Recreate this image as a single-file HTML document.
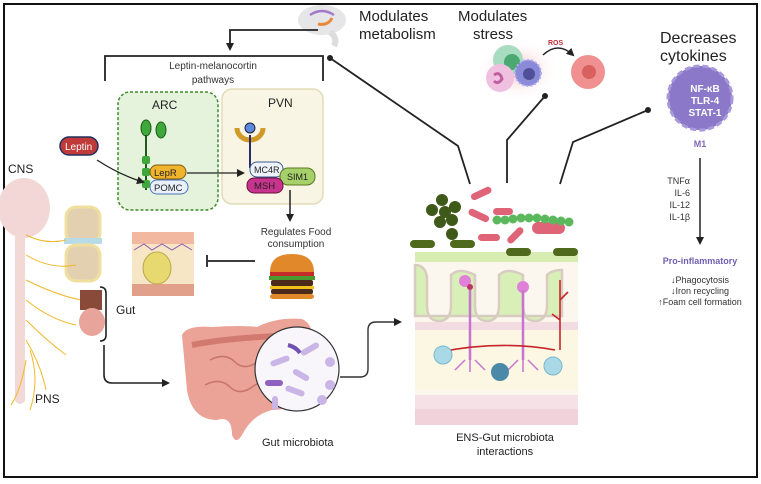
<!DOCTYPE html>
<html><head><style>
html,body{margin:0;padding:0;background:#fff}
svg{display:block;font-family:"Liberation Sans",sans-serif}
</style></head><body>
<svg width="761" height="484" viewBox="0 0 761 484" xmlns="http://www.w3.org/2000/svg">
<defs>
<marker id="ah" markerWidth="8" markerHeight="8" refX="6" refY="4" orient="auto" markerUnits="userSpaceOnUse"><path d="M0,0 L8,4 L0,8z" fill="#222"/></marker>
<radialGradient id="glow"><stop offset="0" stop-color="#f3b8c0"/><stop offset="1" stop-color="#fff" stop-opacity="0"/></radialGradient>
</defs>
<rect x="4" y="4" width="753" height="473" fill="#fff" stroke="#111" stroke-width="2"/>

<!-- top brain -->
<ellipse cx="322" cy="20" rx="24" ry="15" fill="#e6e6e8"/>
<path d="M310 15 q12 -8 24 0" stroke="#a27ac8" stroke-width="2.5" fill="none"/>
<path d="M318 24 q10 2 14 -6" stroke="#e8883a" stroke-width="3" fill="none"/>
<path d="M330 32 q8 6 4 14" stroke="#ddd" stroke-width="6" fill="none"/>
<text x="359" y="21" font-size="15" fill="#222">Modulates</text>
<text x="359" y="39" font-size="15" fill="#222">metabolism</text>
<path d="M318 30 H230 V49" stroke="#222" stroke-width="1.8" fill="none" marker-end="url(#ah)"/>
<path d="M105 81 V56 H323 V81" stroke="#222" stroke-width="1.8" fill="none"/>
<text x="213" y="69" font-size="10" text-anchor="middle" fill="#333">Leptin-melanocortin</text>
<text x="213" y="83" font-size="10" text-anchor="middle" fill="#333">pathways</text>

<!-- ARC -->
<rect x="118" y="92" width="100" height="118" rx="12" fill="#e5f2dc" stroke="#3e8a2a" stroke-width="1.5" stroke-dasharray="3,2"/>
<text x="152" y="109" font-size="12" fill="#222">ARC</text>
<rect x="222" y="89" width="101" height="115" rx="10" fill="#f8f5e4" stroke="#e3dcb8" stroke-width="1.5"/>
<text x="268" y="107" font-size="12" fill="#222">PVN</text>
<ellipse cx="146" cy="128" rx="5" ry="8" fill="#3fa83a" stroke="#1f5a1a"/>
<ellipse cx="161" cy="130" rx="5" ry="8" fill="#3fa83a" stroke="#1f5a1a"/>
<line x1="146" y1="135" x2="146" y2="190" stroke="#1f5a1a" stroke-width="2"/>
<rect x="142" y="156" width="8" height="8" rx="2" fill="#3fa83a"/>
<rect x="142" y="168" width="8" height="8" rx="2" fill="#3fa83a"/>
<rect x="142" y="180" width="8" height="8" rx="2" fill="#3fa83a"/>
<rect x="150" y="165" width="36" height="14" rx="7" fill="#f0b42c" stroke="#7a5a10"/>
<text x="154" y="176" font-size="9.5" fill="#222">LepR</text>
<rect x="150" y="180" width="38" height="14" rx="7" fill="#eaf0fb" stroke="#4a74b8"/>
<text x="154" y="191" font-size="9.5" fill="#222">POMC</text>
<rect x="60" y="137" width="38" height="18" rx="9" fill="#c03a3a" stroke="#203060" stroke-width="1.5"/>
<text x="65" y="150" font-size="10" fill="#fff">Leptin</text>
<path d="M97 160 Q120 175 143 182" stroke="#222" stroke-width="1.3" fill="none" marker-end="url(#ah)"/>
<path d="M187 173 H243" stroke="#222" stroke-width="1.3" fill="none" marker-end="url(#ah)"/>
<path d="M237 128 a13 12 0 0 0 26 0" stroke="#d09a28" stroke-width="5" fill="none"/>
<circle cx="250" cy="128" r="5" fill="#5a8ae0" stroke="#223"/>
<line x1="250" y1="135" x2="250" y2="168" stroke="#2b2b6a" stroke-width="2"/>
<rect x="250" y="162" width="33" height="15" rx="7" fill="#eef2fb" stroke="#3a5a90"/>
<text x="254" y="173" font-size="9" fill="#222">MC4R</text>
<rect x="280" y="168" width="35" height="17" rx="8" fill="#a6d06a" stroke="#5a7a20"/>
<text x="287" y="180" font-size="9" fill="#222">SIM1</text>
<rect x="247" y="178" width="36" height="15" rx="7" fill="#c8338e" stroke="#6a1040"/>
<text x="254" y="189" font-size="9.5" fill="#222">MSH</text>
<path d="M290 190 V220" stroke="#222" stroke-width="1.5" fill="none" marker-end="url(#ah)"/>
<text x="296" y="235" font-size="10" text-anchor="middle" fill="#333">Regulates Food</text>
<text x="296" y="247" font-size="10" text-anchor="middle" fill="#333">consumption</text>

<!-- burger -->
<path d="M270 272 q0 -18 22 -18 q22 0 22 18z" fill="#e0882a"/>
<rect x="270" y="272" width="44" height="4" fill="#c42a2a"/>
<rect x="269" y="276" width="46" height="4" fill="#4a9a30"/>
<rect x="271" y="280" width="42" height="6" rx="2" fill="#4a2a1a"/>
<rect x="270" y="286" width="44" height="3" fill="#f2c11a"/>
<rect x="271" y="289" width="42" height="5" rx="2" fill="#4a2a1a"/>
<rect x="270" y="294" width="44" height="5" rx="3" fill="#e0882a"/>
<path d="M255 261 H208 M207 255 V267" stroke="#222" stroke-width="1.8"/>
<!-- skin -->
<rect x="132" y="232" width="62" height="64" fill="#f6e6c6"/>
<rect x="132" y="232" width="62" height="12" fill="#f2b9a0"/>
<rect x="132" y="284" width="62" height="12" fill="#e0a08a"/>
<path d="M134 250 l10 -6 l8 6 l10 -6 l10 6 l10 -6 l10 6" stroke="#8a5ab0" fill="none"/>
<ellipse cx="157" cy="268" rx="14" ry="16" fill="#e8d870" stroke="#b8a84a"/>
<!-- knee -->
<rect x="66" y="207" width="34" height="36" rx="10" fill="#e2d0b0" stroke="#f0e0a0" stroke-width="3"/>
<rect x="64" y="238" width="38" height="6" fill="#b7dbe7"/>
<rect x="66" y="245" width="34" height="36" rx="10" fill="#e2d0b0" stroke="#f0e0a0" stroke-width="3"/>
<!-- CNS/PNS -->
<text x="8" y="173" font-size="12" fill="#222">CNS</text>
<ellipse cx="24" cy="208" rx="26" ry="30" fill="#f3d7d7"/>
<rect x="15" y="232" width="10" height="172" rx="5" fill="#f2d9d6"/>
<g stroke="#f0b82a" stroke-width="1" fill="none">
<path d="M26 235 q20 10 40 5 M26 255 q25 15 50 10 M26 280 q30 15 55 20 M26 300 q25 20 50 25 M26 320 q20 20 40 35 M26 340 q15 25 20 50 M30 350 q10 30 0 60 M26 360 q-5 30 -15 45"/>
</g>
<text x="35" y="403" font-size="12" fill="#222">PNS</text>
<path d="M80 290 h22 v20 h-22z" fill="#8a4a3a"/>
<ellipse cx="92" cy="322" rx="13" ry="14" fill="#e8a49a"/>
<path d="M100 287 q6 0 6 6 V335 q0 6 -6 6" stroke="#222" stroke-width="1.6" fill="none"/>
<text x="116" y="314" font-size="12" fill="#222">Gut</text>
<path d="M104 345 V375 q0 8 8 8 H168" stroke="#222" stroke-width="1.6" fill="none" marker-end="url(#ah)"/>
<!-- large intestine -->
<path d="M182 335 q5 -10 30 -8 q30 -2 45 0 q20 -10 45 -8 q12 5 10 25 V380 q-10 30 -40 30 q-20 5 -30 25 q-6 10 -10 0 q0 -20 -15 -15 q-25 0 -30 -30z" fill="#eba297"/>
<path d="M192 345 q40 -8 110 -10" stroke="#d27a70" stroke-width="6" fill="none"/>
<path d="M210 360 q15 -8 25 2 q10 10 25 -2 q15 -8 25 4 M205 385 q15 -8 25 2 q10 10 25 -2 q15 -8 25 4" stroke="#c8766a" stroke-width="1.5" fill="none"/>
<circle cx="297" cy="369" r="42" fill="#f8f6fb" stroke="#333" stroke-width="1.2"/>
<g fill="#c9b6e6"><rect x="270" y="358" width="20" height="6" rx="3" transform="rotate(-20 280 361)"/><rect x="300" y="346" width="20" height="6" rx="3" transform="rotate(-30 310 349)"/><rect x="292" y="372" width="18" height="6" rx="3" transform="rotate(30 301 375)"/><rect x="285" y="388" width="20" height="6" rx="3" transform="rotate(20 295 391)"/><rect x="272" y="396" width="6" height="14" rx="3"/><circle cx="330" cy="385" r="5"/><circle cx="322" cy="400" r="5"/><circle cx="330" cy="362" r="5"/></g>
<rect x="265" y="380" width="18" height="6" rx="3" fill="#9060c0"/>
<path d="M288 345 q8 2 12 8" stroke="#7050b0" stroke-width="4" fill="none"/>
<text x="262" y="446" font-size="11" fill="#222">Gut microbiota</text>
<path d="M340 377 H360 q8 0 8 -8 V330 q0 -8 8 -8 H400" stroke="#333" stroke-width="1.4" fill="none" marker-end="url(#ah)"/>

<!-- ENS tissue -->
<rect x="415" y="252" width="163" height="173" fill="#fbf6ee"/>
<rect x="415" y="330" width="163" height="60" fill="#fbf7e3"/>
<rect x="415" y="395" width="163" height="14" fill="#f6e1e6"/>
<rect x="415" y="409" width="163" height="16" fill="#f2d2da"/>
<rect x="415" y="322" width="163" height="8" fill="#f2dce2"/>
<path d="M415 252 H578 V262 H415z" fill="#d6ecb0"/>
<g fill="#d8efb8" stroke="#d8ccc0" stroke-width="2.5">
<path d="M415 265 q10 0 12 12 V305 q0 16 12 16 q12 0 12 -16 V275 q8 -8 24 0 V305 q0 16 12 16 q12 0 12 -16 V275 q8 -8 24 0 V305 q0 16 12 16 q12 0 12 -16 V275 q5 -5 15 -5 V316 H415z"/>
</g>
<g fill="#4f6a1c"><rect x="410" y="240" width="25" height="8" rx="4"/><rect x="450" y="240" width="25" height="8" rx="4"/><rect x="506" y="248" width="25" height="8" rx="4"/><rect x="553" y="248" width="25" height="8" rx="4"/></g>
<g fill="#3e5a18"><circle cx="442" cy="200" r="6"/><circle cx="432" cy="210" r="6"/><circle cx="445" cy="212" r="6"/><circle cx="455" cy="207" r="6"/><circle cx="440" cy="222" r="6"/><circle cx="452" cy="220" r="6"/><circle cx="452" cy="234" r="6"/></g>
<g fill="#df6478"><rect x="470" y="190" width="22" height="7" rx="3.5" transform="rotate(-25 481 193)"/><rect x="468" y="212" width="22" height="7" rx="3.5" transform="rotate(25 479 215)"/><rect x="493" y="208" width="20" height="7" rx="3.5"/><rect x="478" y="234" width="22" height="7" rx="3.5"/><rect x="505" y="232" width="20" height="7" rx="3.5" transform="rotate(-45 515 235)"/><rect x="532" y="222" width="33" height="12" rx="6"/></g>
<g fill="#5cb85c"><circle cx="497" cy="220" r="4.5"/><circle cx="505" cy="220" r="4.5"/><circle cx="513" cy="219" r="4.5"/><circle cx="521" cy="218" r="4.5"/><circle cx="529" cy="218" r="4.5"/><circle cx="537" cy="218" r="4.5"/><circle cx="545" cy="219" r="4.5"/><circle cx="553" cy="220" r="4.5"/><circle cx="561" cy="221" r="4.5"/><circle cx="569" cy="222" r="4.5"/></g>
<g fill="#c0306a"><circle cx="465" cy="281" r="6" fill="#e080d8"/><circle cx="470" cy="287" r="3"/><circle cx="523" cy="287" r="6" fill="#e080d8"/></g>
<path d="M470 290 V360 M523 290 V360" stroke="#c873d0" stroke-width="2.5"/>
<path d="M465 360 l-10 10 M470 360 v12 M475 360 l10 10 M518 360 l-10 10 M523 360 v12 M528 360 l10 10" stroke="#c873d0" stroke-width="1.5"/>
<path d="M440 352 Q500 340 555 350 M560 350 V280 M560 300 l8 -8 M560 320 l-8 -6" stroke="#c8262a" stroke-width="1.6" fill="none"/>
<circle cx="443" cy="355" r="9" fill="#a9d8e6" stroke="#7ab8cc"/>
<circle cx="500" cy="372" r="9" fill="#4a8aa8"/>
<circle cx="553" cy="366" r="9" fill="#a9d8e6" stroke="#7ab8cc"/>
<text x="505" y="441" font-size="11" text-anchor="middle" fill="#222">ENS-Gut microbiota</text>
<text x="505" y="455" font-size="11" text-anchor="middle" fill="#222">interactions</text>

<!-- connectors -->
<path d="M470 184 L458 146 L330 58" stroke="#222" stroke-width="1.8" fill="none"/><circle cx="330" cy="58" r="3" fill="#222"/>
<path d="M507 183 V140 L545 96" stroke="#222" stroke-width="1.8" fill="none"/><circle cx="545" cy="96" r="3" fill="#222"/>
<path d="M560 184 L573 142 L648 110" stroke="#222" stroke-width="1.8" fill="none"/><circle cx="648" cy="110" r="3" fill="#222"/>

<!-- stress -->
<text x="458" y="21" font-size="15" fill="#222">Modulates</text>
<text x="473" y="39" font-size="15" fill="#222">stress</text>
<ellipse cx="518" cy="70" rx="42" ry="32" fill="url(#glow)"/>
<circle cx="508" cy="60" r="15" fill="#a8dcc0"/><circle cx="512" cy="62" r="8" fill="#4aa870"/>
<circle cx="500" cy="78" r="14" fill="#f0c0e0"/><path d="M494 75 q6 -4 8 4 q-4 6 -8 2" stroke="#c060a0" stroke-width="3" fill="none"/>
<circle cx="528" cy="73" r="13" fill="#8a8ad8" stroke="#b0b0f0" stroke-width="2" stroke-dasharray="2,2"/><circle cx="529" cy="74" r="6" fill="#505098"/>
<text x="548" y="45" font-size="7" fill="#c0303a" font-weight="bold">ROS</text>
<path d="M543 55 q15 -14 30 0" stroke="#222" stroke-width="1.5" fill="none" marker-end="url(#ah)"/>
<circle cx="588" cy="72" r="17" fill="#f09090"/><circle cx="589" cy="72" r="7" fill="#d86060"/>

<!-- M1 -->
<text x="660" y="43" font-size="16" fill="#222">Decreases</text>
<text x="660" y="61" font-size="16" fill="#222">cytokines</text>
<circle cx="700" cy="98" r="32" fill="#8b78c8" stroke="#a898dc" stroke-width="3" stroke-dasharray="6,3"/>
<text x="705" y="92" font-size="10" font-weight="bold" fill="#fff" text-anchor="middle">NF-κB</text>
<text x="705" y="104" font-size="10" font-weight="bold" fill="#fff" text-anchor="middle">TLR-4</text>
<text x="705" y="116" font-size="10" font-weight="bold" fill="#fff" text-anchor="middle">STAT-1</text>
<text x="700" y="147" font-size="9" font-weight="bold" fill="#8068b8" text-anchor="middle">M1</text>
<path d="M700 158 V243" stroke="#222" stroke-width="1.5" fill="none" marker-end="url(#ah)"/>
<g font-size="9" fill="#333" text-anchor="end"><text x="690" y="184">TNFα</text><text x="690" y="196">IL-6</text><text x="690" y="208">IL-12</text><text x="690" y="220">IL-1β</text></g>
<text x="700" y="264" font-size="9" font-weight="bold" fill="#7060b0" text-anchor="middle">Pro-inflammatory</text>
<g font-size="9" fill="#333" text-anchor="middle"><text x="700" y="283">↓Phagocytosis</text><text x="700" y="294">↓Iron recycling</text><text x="700" y="305">↑Foam cell formation</text></g>
</svg>
</body></html>
